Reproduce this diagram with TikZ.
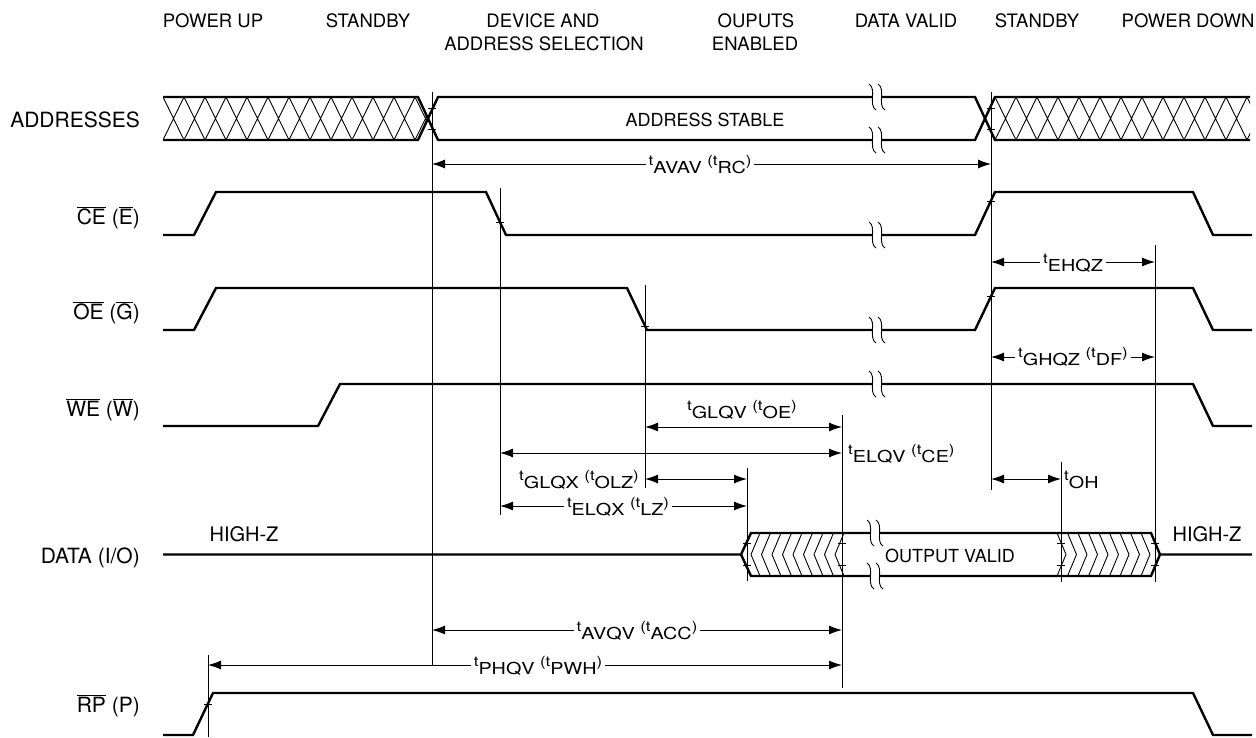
\documentclass[tikz,border=0pt]{standalone}
\usepackage{fontspec}
\setmainfont{TeX Gyre Heros}
\newfontfamily\tfont[FakeStretch=1.2]{TeX Gyre Heros}
\usetikzlibrary{arrows.meta}
\newcommand\tT[1]{\raisebox{8pt}{\fontsize{14}{14}\selectfont t}#1}
\newcommand\tP[1]{\raisebox{8pt}{\fontsize{14}{14}\selectfont (t}#1\raisebox{8pt}{\fontsize{14}{14}\selectfont )}}
\newcommand\ovl[1]{$\overline{\mbox{#1}}$}
\tikzset{
  sig/.style={line width=2.4pt},
  refl/.style={line width=1pt},
  hatch/.style={line width=0.9pt},
  tickm/.style={line width=0.9pt},
  dim/.style={line width=1pt,{Latex[length=13pt,width=9pt]}-{Latex[length=13pt,width=9pt]}},
  rowlbl/.style={font=\fontsize{21}{23}\selectfont,anchor=base east,inner sep=0pt},
  hdr/.style={font=\fontsize{18.5}{22}\selectfont,anchor=base,inner sep=0pt},
  txt/.style={font=\fontsize{18}{22}\selectfont,anchor=base,inner sep=0pt},
  tl/.style={font=\tfont\fontsize{16.5}{16.5}\selectfont,anchor=base,fill=white,inner xsep=3pt,inner ysep=1pt},
  tls/.style={font=\tfont\fontsize{16.5}{16.5}\selectfont,inner sep=0pt},
  brk/.pic={
    \fill[white] (-8,-13) .. controls (0,-8) and (-9,8) .. (-1,13) -- (8,13) .. controls (0,8) and (9,-8) .. (1,-13) -- cycle;
    \draw[line width=0.9pt] (-8,-13) .. controls (0,-8) and (-9,8) .. (-1,13);
    \draw[line width=0.9pt] (1,-13) .. controls (9,-8) and (0,8) .. (8,13);
  }
}
\begin{document}
\begin{tikzpicture}[x=1pt,y=-1pt]
\useasboundingbox (0,0) rectangle (1256,737);

% ---------- headers ----------
\node[hdr] (h1) at (213,27) {POWER UP};
\node[hdr] (h2) at (368,27) {STANDBY};
\node[hdr] (h3a) at (543,27) {DEVICE AND};
\node[hdr] (h3b) at (544,50) {ADDRESS SELECTION};
\node[hdr] (h4a) at (756,27) {OUPUTS};
\node[hdr] (h4b) at (755,50) {ENABLED};
\node[hdr] (h5) at (906,27) {DATA VALID};
\node[hdr] (h6) at (1037,27) {STANDBY};
\node[hdr] (h7) at (1188,27) {POWER DOWN};

% ---------- row labels ----------
\node[rowlbl] (lA) at (140,127) {ADDRESSES};
\node[rowlbl] (lE) at (140,224) {\ovl{CE} (\ovl{E})};
\node[rowlbl] (lG) at (140,319) {\ovl{OE} (\ovl{G})};
\node[rowlbl] (lW) at (140,416) {\ovl{WE} (\ovl{W})};
\node[rowlbl] (lD) at (140,563) {DATA (I/O)};
\node[rowlbl] (lP) at (140,712) {\ovl{RP} (P)};

% ---------- address hatching ----------
\begin{scope}
\clip (163,97) -- (418,97) -- (428,118.5) -- (418,140) -- (163,140) -- cycle;
\foreach \i in {0,...,12} {
  \draw[hatch] ({163+21*\i},97) -- ({184+21*\i},140) ({163+21*\i},140) -- ({184+21*\i},97);
}
\end{scope}
\begin{scope}
\clip (985,118.5) -- (995,97) -- (1250,97) -- (1250,140) -- (995,140) -- cycle;
\foreach \i in {-1,...,12} {
  \draw[hatch] ({995+21*\i},97) -- ({1016+21*\i},140) ({995+21*\i},140) -- ({1016+21*\i},97);
}
\end{scope}

% ---------- data hatching ----------
\begin{scope}
\clip (751,533) -- (844,533) -- (844,576) -- (751,576) -- (741,554.5) -- cycle;
\foreach \i in {0,...,9} {
  \draw[hatch] ({751+10.5*\i+9},533) -- ({751+10.5*\i},554.5) -- ({751+10.5*\i+9},576);
}
\end{scope}
\begin{scope}
\clip (1057,533) -- (1151,533) -- (1160,554.5) -- (1151,576) -- (1057,576) -- cycle;
\foreach \i in {0,...,8} {
  \draw[hatch] ({1057+10.5*\i},533) -- ({1057+10.5*\i+9},554.5) -- ({1057+10.5*\i},576);
}
\end{scope}

% ---------- signals ----------
\draw[sig] (163,97) -- (418,97) -- (438,140) -- (975,140) -- (995,97) -- (1250,97);
\draw[sig] (163,140) -- (418,140) -- (438,97) -- (975,97) -- (995,140) -- (1250,140);
\node[txt] (stable) at (705,126) {ADDRESS STABLE};

\draw[sig] (163,235) -- (194,235) -- (216,192) -- (486,192) -- (506,235) -- (975,235) -- (995,192) -- (1193,192) -- (1213,235) -- (1252,235);
\draw[sig] (163,330) -- (194,330) -- (216,288) -- (627,288) -- (647,330) -- (975,330) -- (995,288) -- (1193,288) -- (1213,330) -- (1252,330);
\draw[sig] (163,426) -- (318,426) -- (340,384) -- (1193,384) -- (1213,426) -- (1252,426);
\draw[sig] (163,735) -- (193,735) -- (213,693) -- (1193,693) -- (1213,735) -- (1252,735);

\draw[sig] (163,554.5) -- (741,554.5) -- (751,533) -- (1151,533) -- (1160,554.5) -- (1252,554.5);
\draw[sig] (741,554.5) -- (751,576) -- (1151,576) -- (1160,554.5);
\node[txt,font=\fontsize{20}{22}\selectfont] (hz1) at (244,541) {HIGH-Z};
\node[txt,font=\fontsize{20}{22}\selectfont] (hz2) at (1207,541) {HIGH-Z};
\node[txt] (ovalid) at (950,562) {OUTPUT VALID};

% ---------- breaks ----------
\foreach \bx/\by in {877/97,877/140,877/235,877/330,877/384,875/533,875/576}
  \pic at (\bx,\by) {brk};

% ---------- reference lines ----------
\foreach \nm/\vx/\ya/\yb in {v1/432/92/665, v2/991/92/490, v3/500/188/515, v4/645/285/488,
  v5/747/468/581, v6/842/415/688, v7/1061/462/582, v8/1155/245/582, v9/208/655/737} {
  \coordinate (\nm t) at (\vx,\ya);
  \coordinate (\nm b) at (\vx,\yb);
  \draw[refl] (\nm t) -- (\nm b);
}

% ---------- ticks ----------
\foreach \tx/\ty in {432/108,432/129,991/108,991/129,500/222,991/201,645/326,991/296,208/704,
  747/543,747/565,842/543,842/565,1061/543,1061/565,1155/543,1155/565}
  \draw[tickm] ({\tx-4},\ty) -- ({\tx+4},\ty);

% ---------- dimensions ----------
\coordinate (avavL) at (432,164);  \coordinate (avavR) at (991,164);
\coordinate (ehqzL) at (991,262);  \coordinate (ehqzR) at (1155,262);
\coordinate (ghqzL) at (991,357);  \coordinate (ghqzR) at (1155,357);
\coordinate (glqvL) at (645,427);  \coordinate (glqvR) at (842,427);
\coordinate (elqvL) at (500,453);  \coordinate (elqvR) at (842,453);
\coordinate (glqxL) at (645,479);  \coordinate (glqxR) at (747,479);
\coordinate (elqxL) at (500,506);  \coordinate (elqxR) at (747,506);
\coordinate (ohL) at (991,479);    \coordinate (ohR) at (1061,479);
\coordinate (avqvL) at (432,630);  \coordinate (avqvR) at (842,630);
\coordinate (phqvL) at (208,665);  \coordinate (phqvR) at (842,665);

\draw[dim] (avavL) -- (avavR);
\draw[dim] (ehqzL) -- (ehqzR);
\draw[dim] (ghqzL) -- (ghqzR);
\draw[dim] (glqvL) -- (glqvR);
\draw[dim] (elqvL) -- (elqvR);
\draw[dim] (glqxL) -- (glqxR);
\draw[dim] (elqxL) -- (elqxR);
\draw[dim] (ohL) -- (ohR);
\draw[dim] (avqvL) -- (avqvR);
\draw[dim] (phqvL) -- (phqvR);

\node[tl] (tavav) at (700,173) {\tT{AVAV} \tP{RC}};
\node[tl] (tehqz) at (1073,271) {\tT{EHQZ}};
\node[tl] (tghqz) at (1073,365) {\tT{GHQZ} \tP{DF}};
\node[tls,anchor=base] (tglqv) at (742,418) {\tT{GLQV} \tP{OE}};
\node[tls,anchor=base west] (telqv) at (848,462) {\tT{ELQV} \tP{CE}};
\node[tls,anchor=base east] (tglqx) at (639,488) {\tT{GLQX} \tP{OLZ}};
\node[tl] (telqx) at (618,515) {\tT{ELQX} \tP{LZ}};
\node[tls,anchor=base west] (toh) at (1064,488) {\tT{OH}};
\node[tl] (tavqv) at (637,639) {\tT{AVQV} \tP{ACC}};
\node[tl] (tphqv) at (538,674) {\tT{PHQV} \tP{PWH}};
\end{tikzpicture}
\end{document}
